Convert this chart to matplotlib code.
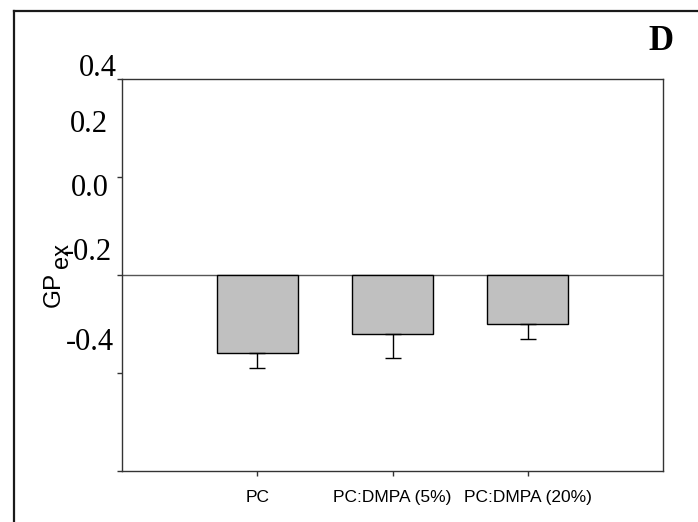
import matplotlib
matplotlib.use("Agg")
import matplotlib.pyplot as plt
from matplotlib.lines import Line2D

# ---- data ----
categories = ["PC", "PC:DMPA (5%)", "PC:DMPA (20%)"]
values = [-0.160, -0.120, -0.100]
errors = [0.030, 0.050, 0.031]
ytick_values = [0.4, 0.2, 0.0, -0.2, -0.4]
ytick_labels = ["0.4", "0.2", "0.0", "-0.2", "-0.4"]
ylabel_main = "GP"
ylabel_sub = "ex"
panel_label = "D"

W, H = 698, 522
fig = plt.figure(figsize=(W / 100, H / 100), dpi=100)


def fx(px):
    return px / W


def fy(py):
    return 1 - py / H


# axes box in pixels: left 122, right 663, top 79, bottom 471
ax = fig.add_axes([fx(122), fy(471), fx(663) - fx(122), fy(79) - fy(471)])

xs = list(range(len(categories)))
ax.bar(xs, values, width=0.6, color="#c0c0c0", edgecolor="black", linewidth=1.0, zorder=2)
ax.errorbar(xs, values, yerr=[errors, [0] * len(errors)], fmt="none", ecolor="black",
            elinewidth=1.0, capsize=5.75, capthick=1.0, zorder=3)
ax.axhline(0, color="#555555", linewidth=1.0, zorder=1)

ax.set_xlim(-1, 3)
ax.set_ylim(-0.4, 0.4)
ax.set_xticks(xs)
ax.set_xticklabels(categories, fontsize=12.5, family="Liberation Sans")
ax.set_yticks(ytick_values)
ax.set_yticklabels([""] * len(ytick_values))
ax.tick_params(axis="x", direction="out", length=3.6, width=1.0, pad=10.0, color="#333333")
ax.tick_params(axis="y", direction="out", length=3.6, width=1.0, color="#333333")
for s in ax.spines.values():
    s.set_color("#333333")
    s.set_linewidth(1.0)

# y tick labels (displaced as in the reference figure)
label_pos = [(117, 69), (108, 125), (109, 189), (112, 252), (114, 343)]
for lab, (px, py) in zip(ytick_labels, label_pos):
    fig.text(fx(px), fy(py), lab, ha="right", va="center", fontsize=22,
             family="Liberation Serif", color="black")

# y axis label: GP with subscript ex (rotated)
fig.text(fx(54), fy(289), ylabel_main, rotation=90, ha="center", va="center",
         fontsize=17.5, family="Liberation Sans")
fig.text(fx(62), fy(256), ylabel_sub, rotation=90, ha="center", va="center",
         fontsize=17, family="Liberation Sans")

# panel label
fig.text(fx(661), fy(42), panel_label, ha="center", va="center", fontsize=25,
         fontweight="bold", family="Liberation Serif")

# outer frame (left and top edges)
fig.add_artist(Line2D([fx(14), fx(14)], [fy(11), 0], transform=fig.transFigure,
                      color="#1a1a1a", linewidth=1.6))
fig.add_artist(Line2D([fx(14), 1], [fy(11), fy(11)], transform=fig.transFigure,
                      color="#1a1a1a", linewidth=1.6))

fig.savefig("out.png", dpi=100, facecolor="white")
